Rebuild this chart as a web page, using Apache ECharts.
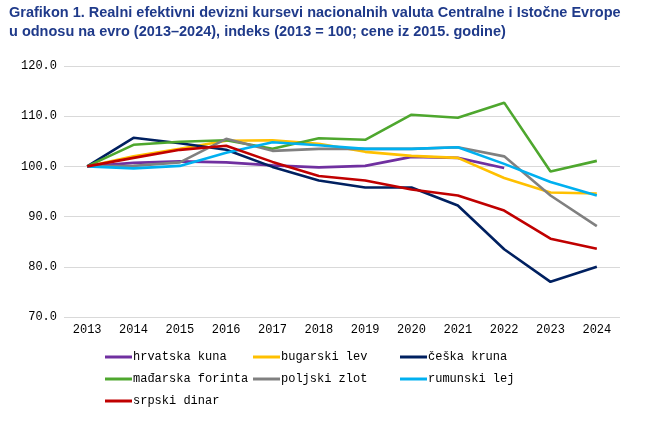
<!DOCTYPE html>
<html><head><meta charset="utf-8">
<script src="https://cdn.jsdelivr.net/npm/echarts@6/dist/echarts.min.js"></script>
<style>html,body{margin:0;padding:0;background:#fff}#c{width:649px;height:422px}</style>
</head><body><div id="c"></div>
<script>
const years = ['2013','2014','2015','2016','2017','2018','2019','2020','2021','2022','2023','2024'];
const hrvatska = [100,100.7,101.0,100.8,100.2,99.8,100.1,101.9,101.7,99.7,null,null];
const bugarski = [100,102.0,103.5,105.1,105.2,104.5,102.9,102.1,101.7,97.7,94.8,94.6];
const ceska = [100,105.7,104.6,103.3,99.9,97.2,95.8,95.8,92.2,83.5,77.0,80.0];
const madjarska = [100,104.3,104.9,105.2,103.5,105.6,105.3,110.3,109.7,112.7,99.0,101.1];
const poljski = [100,100.1,100.8,105.5,103.1,103.5,103.5,103.5,103.8,102.0,94.2,88.1];
const rumunski = [100,99.6,100.1,102.7,104.8,104.2,103.5,103.5,103.8,100.5,96.9,94.2];
const srpski = [100,101.7,103.3,104.1,100.9,98.1,97.2,95.4,94.2,91.2,85.6,83.6];
const yTicks = [70,80,90,100,110,120];

const seriesDefs = [
  ['hrvatska kuna', hrvatska, '#7030A0'],
  ['bugarski lev', bugarski, '#FFC000'],
  ['češka kruna', ceska, '#002060'],
  ['mađarska forinta', madjarska, '#4EA72E'],
  ['poljski zlot', poljski, '#808080'],
  ['rumunski lej', rumunski, '#00B0F0'],
  ['srpski dinar', srpski, '#C00000']
];
const legendPos = [[105,351],[253,351],[400,351],[105,373],[253,373],[400,373],[105,395]];
const mono = '"Liberation Mono", "DejaVu Sans Mono", monospace';

const chart = echarts.init(document.getElementById('c'));
chart.setOption({
  animation: false,
  title: {
    text: 'Grafikon 1. Realni efektivni devizni kursevi nacionalnih valuta Centralne i Istočne Evrope\nu odnosu na evro (2013–2024), indeks (2013 = 100; cene iz 2015. godine)',
    left: 9, top: 3, padding: 0,
    textStyle: {fontFamily: '"Liberation Sans", Arial, sans-serif', fontSize: 14.5, fontWeight: 'bold', color: '#1F3A8A', lineHeight: 19}
  },
  grid: {left: 64, right: 29, top: 66, bottom: 105, containLabel: false},
  legend: legendPos.map((p, i) => ({
    data: [seriesDefs[i][0]], left: p[0], top: p[1], padding: 0,
    icon: 'rect', itemWidth: 27, itemHeight: 3,
    textStyle: {fontFamily: mono, fontSize: 12, color: '#000', padding: [0,0,0,-4]}
  })),
  xAxis: {
    type: 'category', data: years, boundaryGap: true,
    axisLine: {show: false}, axisTick: {show: false},
    axisLabel: {fontFamily: mono, fontSize: 12, color: '#000', margin: 7}
  },
  yAxis: {
    type: 'value', min: 70, max: 120, interval: 10,
    axisLine: {show: false}, axisTick: {show: false},
    splitLine: {lineStyle: {color: '#D9D9D9', width: 1}},
    axisLabel: {fontFamily: mono, fontSize: 12, color: '#000', margin: 7, formatter: v => v.toFixed(1)}
  },
  series: seriesDefs.map(d => ({
    name: d[0], type: 'line', data: d[1], symbol: 'none',
    lineStyle: {color: d[2], width: 2.6}, itemStyle: {color: d[2]}
  }))
});
</script></body></html>
